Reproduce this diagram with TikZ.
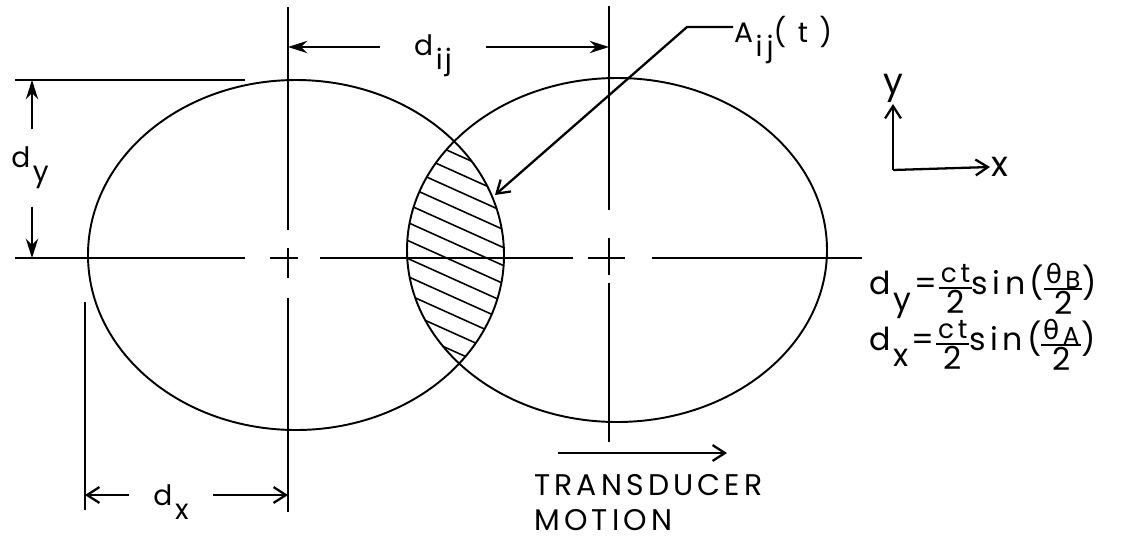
\documentclass[tikz,border=0pt]{standalone}
\usepackage{amsmath}
\usepackage{fontspec}
\setmainfont[LetterSpace=8]{Poppins}
\newfontfamily\wide[LetterSpace=14]{Poppins}
\newfontfamily\grk{DejaVu Sans}
\usetikzlibrary{arrows.meta, positioning}
\newcommand{\lsub}[1]{\raisebox{-0.9ex}{\kern1.5pt#1}}
\newcommand{\fr}[2]{{\fontsize{8}{8}\selectfont\setlength{\arrayrulewidth}{0.9pt}\setlength{\tabcolsep}{1pt}%
  \begin{tabular}[c]{@{\kern1pt}c@{\kern1pt}}{\fontsize{15}{15}\selectfont #1}\\\hline
  {\fontsize{18}{18}\selectfont\rule{0pt}{14pt}#2}\end{tabular}}}

\begin{document}
\begin{tikzpicture}[x=0.02cm, y=-0.02cm, >={Stealth[length=11pt, width=7pt]}, line width=1.3pt,
    lbl/.style={font=\fontsize{16}{18}\selectfont, inner sep=0pt},
    big/.style={font=\wide\fontsize{17}{20}\selectfont, inner sep=0pt},
    axlbl/.style={font=\fontsize{20}{22}\selectfont, inner sep=0pt},
    barb/.style={-{Straight Barb[length=7pt, width=9pt]}},
    hatch/.style={line width=0.9pt}]
\useasboundingbox (0,0) rectangle (1145,545);

\draw[line width=1.1pt] (296,255) ellipse [x radius=208, y radius=175];
\draw[line width=1.1pt] (617,250) ellipse [x radius=210, y radius=172];
\begin{scope}
  \clip (296,255) ellipse [x radius=208, y radius=175];
  \clip (617,250) ellipse [x radius=210, y radius=172];
  \foreach \k in {84,102,...,372}
    \draw[hatch] (380,\k) -- (540,\k+72);
\end{scope}

\draw (15,258) -- (245,258) (270,258) -- (298,258) (320,258) -- (573,258)
      (588,258) -- (625,258) (652,258) -- (862,258);
\draw (15,80) -- (245,80);
\draw (288,7) -- (288,230) (288,248) -- (288,278) (288,298) -- (288,512);
\draw (609,6) -- (609,210) (609,238) -- (609,275) (609,283) -- (609,442);
\draw (85,302) -- (85,510);

\node[lbl, minimum width=2.06cm] (dij) at (433,56) {d\lsub{ij}};
\coordinate (dijL) at (288,47);
\coordinate (dijR) at (609,47);
\draw[->] (dij.west |- dijL) -- (dijL);
\draw[->] (dij.east |- dijR) -- (dijR);

\node[lbl, minimum height=1.5cm] (dy) at (30,168) {d\lsub{y}};
\coordinate (dyT) at (32,80);
\coordinate (dyB) at (32,258);
\draw[->] (dy.north -| dyT) -- (dyT);
\draw[->] (dy.south -| dyB) -- (dyB);

\node[lbl, minimum width=1.64cm] (dx) at (171,502) {d\lsub{x}};
\coordinate (dxL) at (85,495);
\coordinate (dxR) at (288,495);
\draw[barb] (dx.west |- dxL) -- (dxL);
\draw[barb] (dx.east |- dxR) -- (dxR);

\node[lbl, anchor=west, font=\wide\fontsize{16}{18}\selectfont] (aij) at (733,40) {A\lsub{ij}( t )};
\coordinate (aijK) at (687,27);
\coordinate (aijT) at (495,195);
\draw[barb] (aij.west |- aijK) -- (aijK) -- (aijT);

\node[big, anchor=north west, align=left] (motion) at (533,473) {TRANSDUCER\\MOTION};
\coordinate (tmA) at (558,453);
\coordinate (tmB) at (727,453);
\draw[barb] (tmA) -- (tmB);

\coordinate (origin) at (893,170);
\node[axlbl, anchor=south] (ylab) at (893,104) {y};
\node[axlbl, anchor=west] (xlab) at (990,167) {x};
\draw[barb] (origin) -- (ylab.south);
\draw[barb] (origin) -- (xlab.west);

\node[big, anchor=west, font=\wide\fontsize{18}{20}\selectfont] (eqy) at (868,291)
  {d\lsub{y}\kern2pt=\kern1pt\fr{ct}{2}sin(\fr{{\grk θ}\kern2pt\raisebox{-0.3ex}{\fontsize{14}{14}\selectfont B}}{2})};
\node[big, anchor=west, font=\wide\fontsize{18}{20}\selectfont] (eqx) at (868,347)
  {d\lsub{x}\kern2pt=\kern1pt\fr{ct}{2}sin(\fr{{\grk θ}\kern2pt\raisebox{-0.3ex}{\fontsize{14}{14}\selectfont A}}{2})};
\end{tikzpicture}
\end{document}
